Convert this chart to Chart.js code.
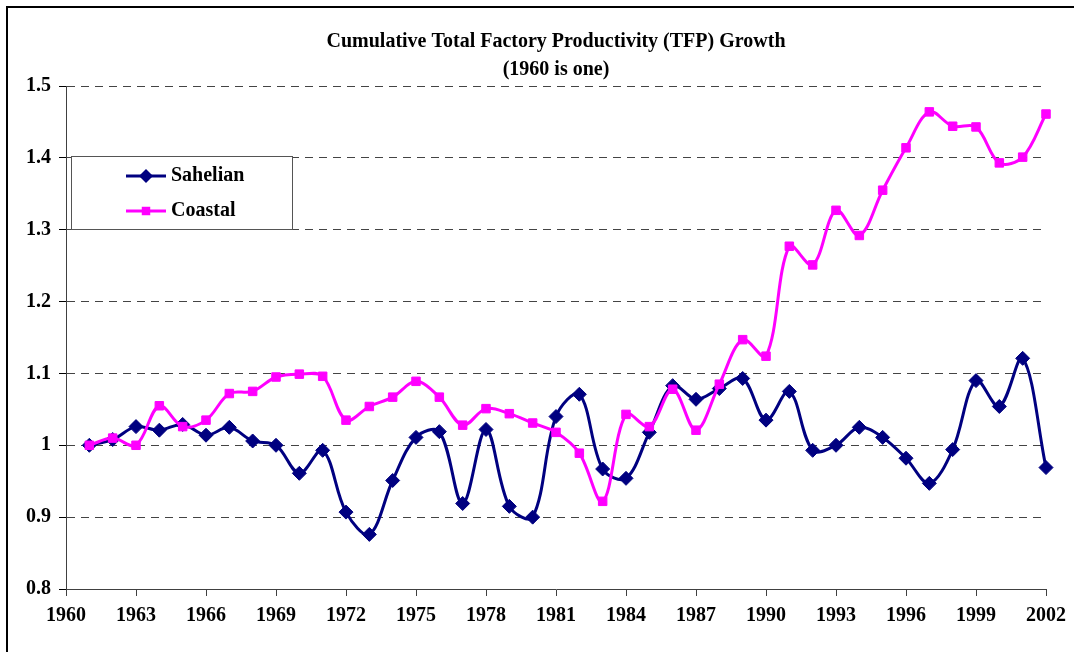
<!DOCTYPE html>
<html>
<head>
<meta charset="utf-8">
<script src="https://cdn.jsdelivr.net/npm/chart.js@4"></script>
<style>
  html, body { margin: 0; padding: 0; background: #fff; }
  #wrap { width: 1074px; height: 652px; position: relative; }
</style>
</head>
<body>
<div id="wrap"><canvas id="chart" width="1074" height="652"></canvas></div>
<script>
let years = [1961, 1962, 1963, 1964, 1965, 1966, 1967, 1968, 1969, 1970,
  1971, 1972, 1973, 1974, 1975, 1976, 1977, 1978, 1979, 1980,
  1981, 1982, 1983, 1984, 1985, 1986, 1987, 1988, 1989, 1990,
  1991, 1992, 1993, 1994, 1995, 1996, 1997, 1998, 1999, 2000,
  2001, 2002]

let sahelian = [1.000, 1.008, 1.026, 1.021, 1.029, 1.014, 1.025, 1.006, 1.000, 0.961,
  0.993, 0.907, 0.876, 0.951, 1.011, 1.019, 0.919, 1.022, 0.915, 0.900,
  1.040, 1.071, 0.967, 0.954, 1.018, 1.083, 1.064, 1.079, 1.093, 1.035,
  1.075, 0.993, 1.000, 1.025, 1.011, 0.982, 0.947, 0.994, 1.090, 1.054,
  1.121, 0.969]

let coastal = [1.000, 1.010, 1.000, 1.055, 1.026, 1.035, 1.072, 1.075, 1.095, 1.099,
  1.096, 1.035, 1.054, 1.067, 1.089, 1.067, 1.028, 1.051, 1.044, 1.031,
  1.018, 0.989, 0.922, 1.043, 1.026, 1.078, 1.021, 1.085, 1.147, 1.124,
  1.277, 1.251, 1.327, 1.292, 1.355, 1.414, 1.464, 1.444, 1.443, 1.393,
  1.401, 1.461]

let titleLines = ["Cumulative Total Factory Productivity (TFP) Growth", "(1960 is one)"]
let seriesNames = ["Sahelian", "Coastal"]

const FONT = "'Liberation Serif', 'Times New Roman', serif"

function toPoints(values) {
    return values.map((v, i) => ({ x: years[i], y: v }))
}

// outer frame of the original picture
const framePlugin = {
    id: 'frame',
    beforeDraw(chart) {
        let ctx = chart.ctx
        ctx.save()
        ctx.strokeStyle = '#000'
        ctx.lineWidth = 2
        ctx.beginPath()
        ctx.moveTo(7, 652)
        ctx.lineTo(7, 7)
        ctx.lineTo(1074, 7)
        ctx.stroke()
        ctx.restore()
    }
}

// boxed legend sitting inside the plot, like the Excel one
const boxLegend = {
    id: 'boxLegend',
    afterDraw(chart) {
        let ctx = chart.ctx
        let box = { x: 71, y: 156, w: 221, h: 73 }
        ctx.save()
        ctx.fillStyle = '#fff'
        ctx.fillRect(box.x, box.y, box.w, box.h)
        ctx.strokeStyle = '#555'
        ctx.lineWidth = 1
        ctx.strokeRect(box.x + 0.5, box.y + 0.5, box.w, box.h)

        let rows = [176, 211]
        chart.data.datasets.forEach((ds, i) => {
            let y = rows[i]
            ctx.strokeStyle = ds.borderColor
            ctx.lineWidth = 3
            ctx.beginPath()
            ctx.moveTo(126, y)
            ctx.lineTo(166, y)
            ctx.stroke()
            ctx.fillStyle = ds.pointBackgroundColor
            ctx.beginPath()
            if (ds.pointStyle === 'rectRot') {
                let r = ds.pointRadius
                ctx.moveTo(146 - r, y); ctx.lineTo(146, y - r); ctx.lineTo(146 + r, y); ctx.lineTo(146, y + r)
            } else {
                let s = ds.pointRadius * Math.SQRT1_2
                ctx.rect(146 - s, y - s, 2 * s, 2 * s)
            }
            ctx.closePath()
            ctx.fill()

            ctx.fillStyle = '#000'
            ctx.font = "bold 20px " + FONT
            ctx.textBaseline = 'middle'
            ctx.textAlign = 'left'
            ctx.fillText(ds.label, 171, y)
        })
        ctx.restore()
    }
}

let ctx = document.querySelector('#chart').getContext('2d')

let chart = new Chart(ctx, {
    type: 'line',
    data: {
        datasets: [{
            label: seriesNames[0],
            data: toPoints(sahelian),
            borderColor: '#000080',
            backgroundColor: '#000080',
            pointBackgroundColor: '#000080',
            pointBorderColor: '#000080',
            pointStyle: 'rectRot',
            pointRadius: 7,
            pointBorderWidth: 1,
            borderWidth: 3,
            tension: 0.35,
            clip: false,
            order: 2
        }, {
            label: seriesNames[1],
            data: toPoints(coastal),
            borderColor: '#ff00ff',
            backgroundColor: '#ff00ff',
            pointBackgroundColor: '#ff00ff',
            pointBorderColor: '#ff00ff',
            pointStyle: 'rect',
            pointRadius: 6,
            pointBorderWidth: 1,
            borderWidth: 3,
            tension: 0.35,
            clip: false,
            order: 1
        }]
    },
    options: {
        responsive: false,
        animation: false,
        layout: { padding: { left: 0, right: 28, top: 0, bottom: 0 } },
        plugins: {
            legend: { display: false },
            tooltip: { enabled: false },
            title: {
                display: true,
                text: titleLines,
                color: '#000',
                fullSize: false,
                font: { family: FONT, size: 20, weight: 'bold', lineHeight: 28 / 20 },
                padding: { top: 28, bottom: 2 }
            }
        },
        scales: {
            x: {
                type: 'linear',
                min: 1960,
                max: 2002,
                afterFit: (scale) => { scale.height = 63 },
                ticks: {
                    stepSize: 3,
                    color: '#000',
                    padding: 8,
                    maxRotation: 0,
                    font: { family: FONT, size: 20, weight: 'bold' },
                    callback: (v) => String(v)
                },
                grid: {
                    drawOnChartArea: false,
                    tickLength: 7,
                    color: '#404040'
                },
                border: { color: '#404040', width: 1 }
            },
            y: {
                min: 0.8,
                max: 1.5,
                afterFit: (scale) => { scale.width = 66 },
                ticks: {
                    stepSize: 0.1,
                    color: '#000',
                    padding: 8,
                    font: { family: FONT, size: 20, weight: 'bold' },
                    callback: (v) => String(Math.round(v * 10) / 10)
                },
                grid: {
                    color: '#444',
                    tickColor: '#000',
                    tickLength: 7,
                    lineWidth: 1
                },
                border: { color: '#404040', width: 1, dash: [8, 6] }
            }
        }
    },
    plugins: [framePlugin, boxLegend]
})
</script>
</body>
</html>
